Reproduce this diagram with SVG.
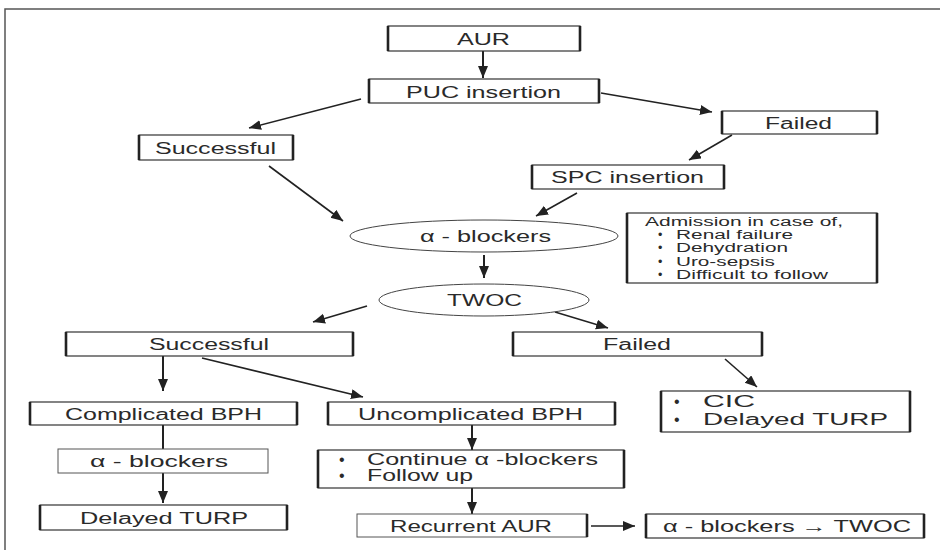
<svg xmlns="http://www.w3.org/2000/svg" width="940" height="550" viewBox="0 0 940 550">
<style>
  .box{fill:#fff;stroke:#333;stroke-width:1.2}
  .thin{fill:#fff;stroke:#555;stroke-width:1}
  .side{stroke:#222;stroke-width:2.6}
  .ell{fill:#fff;stroke:#444;stroke-width:1}
  .t{font-family:"Liberation Sans",Arial,Helvetica,sans-serif;font-size:16px;fill:#2a2a2a}
  .s{font-family:"Liberation Sans",Arial,Helvetica,sans-serif;font-size:12.5px;fill:#2a2a2a}
  .c{stroke:#222;stroke-width:1.6;fill:none}
  .v{stroke:#222;stroke-width:2;fill:none}
</style>
<defs>
  <marker id="ah" markerUnits="userSpaceOnUse" markerWidth="14" markerHeight="12" refX="12" refY="5" orient="auto">
    <path d="M0,0 L12,5 L0,10 Z" fill="#222"/>
  </marker>
</defs>
<rect width="940" height="550" fill="#fff"/>
<path d="M5,550 L5,9 L940,9" fill="none" stroke="#555" stroke-width="1.5"/>

<g id="connectors">
  <path class="v" d="M483,51 L483,78" marker-end="url(#ah)"/>
  <path class="c" d="M361,99 L249,128" marker-end="url(#ah)"/>
  <path class="c" d="M601,93 L712,112" marker-end="url(#ah)"/>
  <path class="c" d="M732,135 L689,160" marker-end="url(#ah)"/>
  <path class="c" d="M269,166 L343,221" marker-end="url(#ah)"/>
  <path class="c" d="M577,193 L536,216" marker-end="url(#ah)"/>
  <path class="v" d="M484,255 L484,278" marker-end="url(#ah)"/>
  <path class="c" d="M367,306 L313,322" marker-end="url(#ah)"/>
  <path class="c" d="M555,312 L608,328" marker-end="url(#ah)"/>
  <path class="c" d="M725,359 L757,387" marker-end="url(#ah)"/>
  <path class="v" d="M163,356 L163,391" marker-end="url(#ah)"/>
  <path class="c" d="M202,358 L363,397" marker-end="url(#ah)"/>
  <path class="v" d="M163,425 L163,449"/>
  <path class="v" d="M163,473 L163,503" marker-end="url(#ah)"/>
  <path class="v" d="M472,425 L472,450" marker-end="url(#ah)"/>
  <path class="v" d="M472,488 L472,514" marker-end="url(#ah)"/>
  <path class="c" d="M591,526 L635,526" marker-end="url(#ah)"/>
</g>

<g id="aur">
  <rect class="box" x="388" y="26" width="192" height="25"/>
  <path class="side" d="M388,26 V51 M580,26 V51"/>
  <text class="t" x="457" y="44.5" textLength="53" lengthAdjust="spacingAndGlyphs">AUR</text>
</g>
<g id="puc">
  <rect class="box" x="369" y="79" width="230" height="24"/>
  <path class="side" d="M369,79 V103 M599,79 V103"/>
  <text class="t" x="406" y="97.5" textLength="155" lengthAdjust="spacingAndGlyphs">PUC insertion</text>
</g>
<g id="successful1">
  <rect class="box" x="139" y="135" width="154" height="25"/>
  <path class="side" d="M139,135 V160 M293,135 V160"/>
  <text class="t" x="155" y="153.5" textLength="121" lengthAdjust="spacingAndGlyphs">Successful</text>
</g>
<g id="failed1">
  <rect class="box" x="722" y="111" width="155" height="23"/>
  <path class="side" d="M722,111 V134 M877,111 V134"/>
  <text class="t" x="765" y="128.5" textLength="67" lengthAdjust="spacingAndGlyphs">Failed</text>
</g>
<g id="spc">
  <rect class="box" x="532" y="165" width="192" height="24"/>
  <path class="side" d="M532,165 V189 M724,165 V189"/>
  <text class="t" x="551" y="183" textLength="153" lengthAdjust="spacingAndGlyphs">SPC insertion</text>
</g>
<g id="alpha1">
  <ellipse class="ell" cx="484" cy="236" rx="134" ry="16"/>
  <text class="t" x="420" y="242" textLength="131" lengthAdjust="spacingAndGlyphs">α - blockers</text>
</g>
<g id="admission">
  <rect class="box" x="627" y="213" width="250" height="70"/>
  <path class="side" d="M627,213 V283 M877,213 V283"/>
  <text class="s" x="645" y="226" textLength="198" lengthAdjust="spacingAndGlyphs">Admission in case of,</text>
  <text class="s" x="658" y="239">•</text>
  <text class="s" x="676" y="239" textLength="117" lengthAdjust="spacingAndGlyphs">Renal failure</text>
  <text class="s" x="658" y="252">•</text>
  <text class="s" x="676" y="252" textLength="112" lengthAdjust="spacingAndGlyphs">Dehydration</text>
  <text class="s" x="658" y="265.5">•</text>
  <text class="s" x="676" y="265.5" textLength="99" lengthAdjust="spacingAndGlyphs">Uro-sepsis</text>
  <text class="s" x="658" y="279">•</text>
  <text class="s" x="676" y="279" textLength="152" lengthAdjust="spacingAndGlyphs">Difficult to follow</text>
</g>
<g id="twoc">
  <ellipse class="ell" cx="484" cy="300" rx="105" ry="16"/>
  <text class="t" x="447" y="306" textLength="75" lengthAdjust="spacingAndGlyphs">TWOC</text>
</g>
<g id="successful2">
  <rect class="box" x="66" y="332" width="287" height="24"/>
  <path class="side" d="M66,332 V356 M353,332 V356"/>
  <text class="t" x="149" y="350" textLength="120" lengthAdjust="spacingAndGlyphs">Successful</text>
</g>
<g id="failed2">
  <rect class="box" x="513" y="332" width="249" height="24"/>
  <path class="side" d="M513,332 V356 M762,332 V356"/>
  <text class="t" x="603" y="350" textLength="68" lengthAdjust="spacingAndGlyphs">Failed</text>
</g>
<g id="cic">
  <rect class="box" x="661" y="391" width="249" height="41"/>
  <path class="side" d="M661,391 V432 M910,391 V432"/>
  <text class="t" x="674" y="407">•</text>
  <text class="t" x="703" y="407" textLength="52" lengthAdjust="spacingAndGlyphs">CIC</text>
  <text class="t" x="674" y="425">•</text>
  <text class="t" x="703" y="425" textLength="185" lengthAdjust="spacingAndGlyphs">Delayed TURP</text>
</g>
<g id="complicated">
  <rect class="box" x="30" y="402" width="267" height="23"/>
  <path class="side" d="M30,402 V425 M297,402 V425"/>
  <text class="t" x="65" y="419.5" textLength="197" lengthAdjust="spacingAndGlyphs">Complicated BPH</text>
</g>
<g id="uncomplicated">
  <rect class="box" x="328" y="402" width="287" height="23"/>
  <path class="side" d="M328,402 V425 M615,402 V425"/>
  <text class="t" x="358" y="419.5" textLength="225" lengthAdjust="spacingAndGlyphs">Uncomplicated BPH</text>
</g>
<g id="alpha2">
  <rect class="thin" x="58" y="449" width="210" height="24"/>
  <text class="t" x="90" y="467" textLength="138" lengthAdjust="spacingAndGlyphs">α - blockers</text>
</g>
<g id="delayed">
  <rect class="box" x="40" y="505" width="247" height="25"/>
  <path class="side" d="M40,505 V530 M287,505 V530"/>
  <text class="t" x="80" y="523.5" textLength="168" lengthAdjust="spacingAndGlyphs">Delayed TURP</text>
</g>
<g id="continue">
  <rect class="box" x="318" y="450" width="306" height="38"/>
  <path class="side" d="M318,450 V488 M624,450 V488"/>
  <text class="t" x="339" y="465">•</text>
  <text class="t" x="367" y="465" textLength="231" lengthAdjust="spacingAndGlyphs">Continue α -blockers</text>
  <text class="t" x="339" y="481">•</text>
  <text class="t" x="367" y="481" textLength="106" lengthAdjust="spacingAndGlyphs">Follow up</text>
</g>
<g id="recurrent">
  <rect class="thin" x="357" y="514" width="230" height="23"/>
  <path class="side" d="M587,514 V537"/>
  <text class="t" x="390" y="531.5" textLength="162" lengthAdjust="spacingAndGlyphs">Recurrent AUR</text>
</g>
<g id="alphatwoc">
  <rect class="box" x="646" y="514" width="278" height="24"/>
  <path class="side" d="M646,514 V538 M924,514 V538"/>
  <text class="t" x="663" y="532" textLength="248" lengthAdjust="spacingAndGlyphs">α - blockers → TWOC</text>
</g>
</svg>
